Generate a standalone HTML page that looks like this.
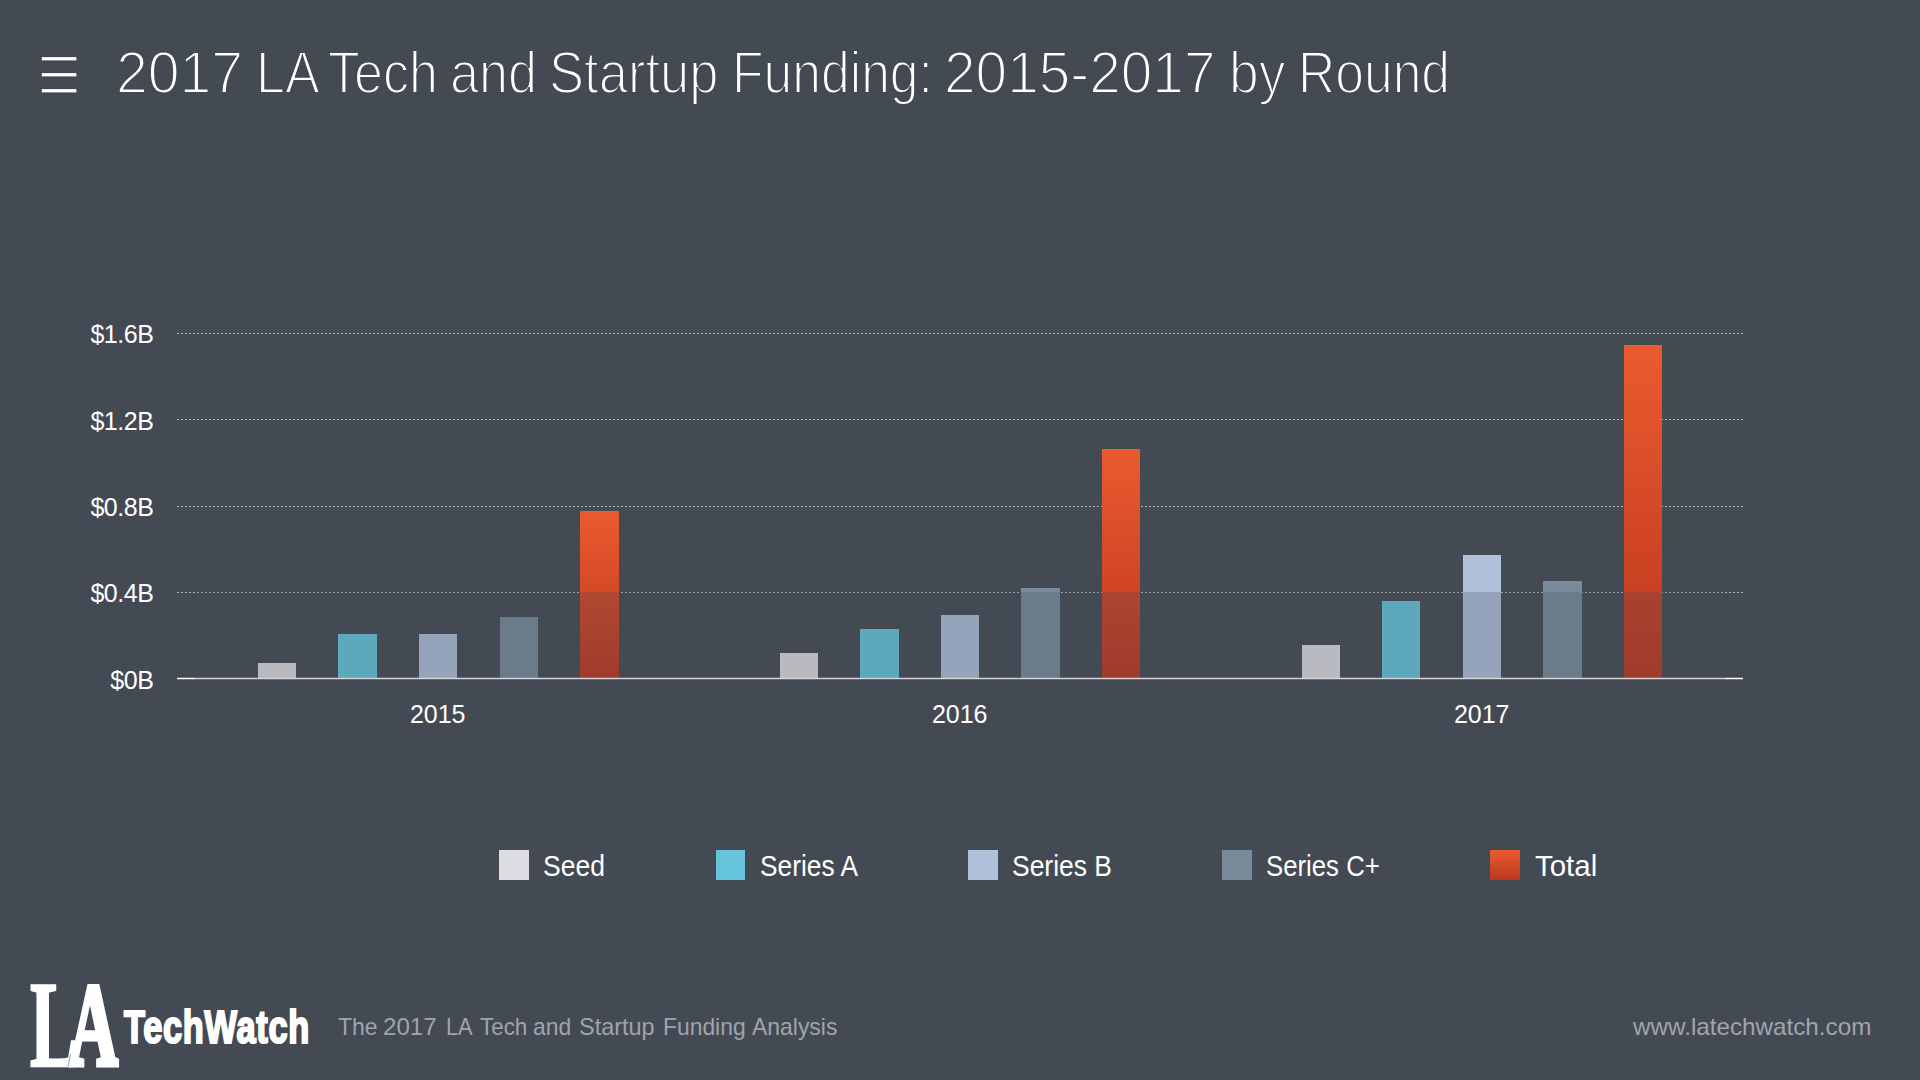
<!DOCTYPE html>
<html lang="en">
<head>
<meta charset="utf-8">
<title>2017 LA Tech and Startup Funding: 2015-2017 by Round</title>
<style>
  html, body { margin: 0; padding: 0; }
  body {
    width: 1920px; height: 1080px; overflow: hidden; position: relative;
    background: #434a54; color: #fff;
    font-family: "Liberation Sans", sans-serif;
  }
  .abs { position: absolute; white-space: nowrap; line-height: 1; }
  svg.menu { position: absolute; left: 0; top: 0; }
  h1.title {
    position: absolute; left: 0; top: 38px; margin: 0; width: 1920px; height: 70px;
    font-weight: 400; font-size: 60px; line-height: 69px; white-space: nowrap;
    color: #fff; -webkit-text-stroke: 2px #434a54;
  }
  h1.title span { position: absolute; top: 0; display: inline-block; transform-origin: 0 0; }
  svg.chart { position: absolute; left: 0; top: 0; }
  svg.chart text { font-family: "Liberation Sans", sans-serif; fill: #fff; }
  ul.legend { list-style: none; margin: 0; padding: 0; }
  ul.legend li { position: absolute; top: 850px; height: 30px; white-space: nowrap; }
  ul.legend li i { position: absolute; left: 0; top: 0; width: 30px; height: 30px; display: block; }
  ul.legend li span { position: absolute; left: 44px; top: 1.3px; font-size: 30px; line-height: 30px; color: #fff; display: inline-block; transform-origin: 0 0; transform: scaleX(0.9); }
  footer p { position: absolute; left: 0; top: 1013px; margin: 0; width: 1920px; height: 28px; font-size: 24px; line-height: 28px; color: #a0a4aa; white-space: nowrap; }
  footer p span { position: absolute; top: 0; display: inline-block; transform-origin: 0 0; }
  .logo-la {
    left: 30px; top: 964.4px; font-family: "Liberation Serif", serif; font-weight: 700;
    font-size: 100px; line-height: 100px; color: #fff; transform-origin: 0 0; transform: scale(0.716, 1.232);
    -webkit-text-stroke: 2px #fff;
  }
  .logo-la b { font-weight: 700; font-size: 96px; -webkit-text-stroke: 4px #fff; margin-left: -13px; position: relative; top: -0.9px; }
  .logo-tw {
    left: 124px; top: 1003px; font-family: "Liberation Sans", sans-serif; font-weight: 700;
    font-size: 47px; line-height: 47px; color: #fff; transform-origin: 0 0; transform: scaleX(0.731);
    -webkit-text-stroke: 2.2px #fff; letter-spacing: 1px;
  }
</style>
</head>
<body>

<header>
  <svg class="menu" width="120" height="120" viewBox="0 0 120 120" aria-label="menu">
    <rect x="41.8" y="57.1" width="34.6" height="3.3" fill="#fff"/>
    <rect x="41.8" y="73.1" width="34.6" height="3.3" fill="#fff"/>
    <rect x="41.8" y="89.1" width="34.6" height="3.3" fill="#fff"/>
  </svg>
  <h1 class="title"><span style="left:115.75px;transform:scaleX(0.9525)">2017</span> <span style="left:255.75px;transform:scaleX(0.8658)">LA</span> <span style="left:327.5px;transform:scaleX(0.8679)">Tech</span> <span style="left:449.5px;transform:scaleX(0.8696)">and</span> <span style="left:549.0px;transform:scaleX(0.8764)">Startup</span> <span style="left:731.75px;transform:scaleX(0.8604)">Funding:</span> <span style="left:944.0px;transform:scaleX(0.9463)">2015-2017</span> <span style="left:1228.5px;transform:scaleX(0.8913)">by</span> <span style="left:1298.0px;transform:scaleX(0.8599)">Round</span></h1>
</header>

<main>
<svg class="chart" width="1920" height="800" viewBox="0 0 1920 800">
  <defs>
    <linearGradient id="gt" x1="0" y1="0" x2="0" y2="1">
      <stop offset="0" stop-color="#ea5b2e"/>
      <stop offset="1" stop-color="#bd371f"/>
    </linearGradient>
  </defs>
  <!-- gridlines -->
  <g stroke="#b3b5b9" stroke-width="1" stroke-dasharray="2 2" fill="none">
    <line x1="177" y1="333.5" x2="1743" y2="333.5"/>
    <line x1="177" y1="419.5" x2="1743" y2="419.5"/>
    <line x1="177" y1="506.5" x2="1743" y2="506.5"/>
    <line x1="177" y1="592.5" x2="1743" y2="592.5"/>
  </g>
  <!-- y labels -->
  <g font-size="25" text-anchor="end" letter-spacing="-0.45">
    <text x="153.5" y="342.8">$1.6B</text>
    <text x="153.5" y="429.5">$1.2B</text>
    <text x="153.5" y="515.8">$0.8B</text>
    <text x="153.5" y="602.2">$0.4B</text>
    <text x="153.5" y="688.6">$0B</text>
  </g>
  <!-- bars -->
  <g id="bars" shape-rendering="crispEdges">
    <!-- 2015 -->
    <rect x="258" y="663" width="38" height="15" fill="#dddde2"/>
    <rect x="338" y="634" width="39" height="44" fill="#66c5dc"/>
    <rect x="419" y="634" width="38" height="44" fill="#afc0da"/>
    <rect x="500" y="617" width="38" height="61" fill="#778b9b"/>
    <rect x="580" y="511" width="39" height="167" fill="url(#gt)"/>
    <!-- 2016 -->
    <rect x="780" y="653" width="38" height="25" fill="#dddde2"/>
    <rect x="860" y="629" width="39" height="49" fill="#66c5dc"/>
    <rect x="941" y="615" width="38" height="63" fill="#afc0da"/>
    <rect x="1021" y="588" width="39" height="90" fill="#778b9b"/>
    <rect x="1102" y="449" width="38" height="229" fill="url(#gt)"/>
    <!-- 2017 -->
    <rect x="1302" y="645" width="38" height="33" fill="#dddde2"/>
    <rect x="1382" y="601" width="38" height="77" fill="#66c5dc"/>
    <rect x="1463" y="555" width="38" height="123" fill="#afc0da"/>
    <rect x="1543" y="581" width="39" height="97" fill="#778b9b"/>
    <rect x="1624" y="345" width="38" height="333" fill="url(#gt)"/>
  </g>
  <!-- axis -->
  <rect x="177" y="677.75" width="1566" height="1.5" fill="#fff"/>
  <!-- dim band below $0.4B -->
  <rect x="195" y="592" width="1530" height="88" fill="#434a54" fill-opacity="0.24"/>
  <!-- x labels -->
  <g font-size="25" text-anchor="middle">
    <text x="437.7" y="723.2">2015</text>
    <text x="959.7" y="723.2">2016</text>
    <text x="1481.7" y="723.2">2017</text>
  </g>
</svg>
</main>

<ul class="legend">
  <li style="left:499px"><i style="background:#dddde1"></i><span style="transform:scaleX(0.8830)">Seed</span></li>
  <li style="left:716px"><i style="width:29.4px;background:#66c5dc"></i><span style="transform:scaleX(0.8773)">Series A</span></li>
  <li style="left:968px"><i style="background:#afc0da"></i><span style="transform:scaleX(0.8820)">Series B</span></li>
  <li style="left:1222px"><i style="background:#778b9b"></i><span style="transform:scaleX(0.8584)">Series C+</span></li>
  <li style="left:1490px"><i style="background:linear-gradient(#ec5b2e,#bb371f)"></i><span style="left:44.7px;transform:scaleX(0.982)">Total</span></li>
</ul>

<footer>
  <div class="abs logo-la">L<b>A</b></div>
  <div class="abs logo-tw">TechWatch</div>
  <svg class="menu" style="top:960px" width="140" height="120" viewBox="0 960 140 120" aria-hidden="true">
    <line x1="70.5" y1="1054" x2="67.8" y2="1068.2" stroke="#434a54" stroke-width="0.7" stroke-opacity="0.75"/>
  </svg>
  <p class="tag"><span style="left:337.5px;transform:scaleX(0.9564)">The</span> <span style="left:382.5px;transform:scaleX(1.004)">2017</span> <span style="left:445.5px;transform:scaleX(0.908)">LA</span> <span style="left:479.5px;transform:scaleX(0.9322)">Tech</span> <span style="left:532.5px;transform:scaleX(0.9529)">and</span> <span style="left:578.5px;transform:scaleX(0.9764)">Startup</span> <span style="left:662.5px;transform:scaleX(0.9525)">Funding</span> <span style="left:751.5px;transform:scaleX(0.9551)">Analysis</span></p>
  <p class="url"><span style="left:1633px;transform:scaleX(1.0094)">www.latechwatch.com</span></p>
</footer>

</body>
</html>
